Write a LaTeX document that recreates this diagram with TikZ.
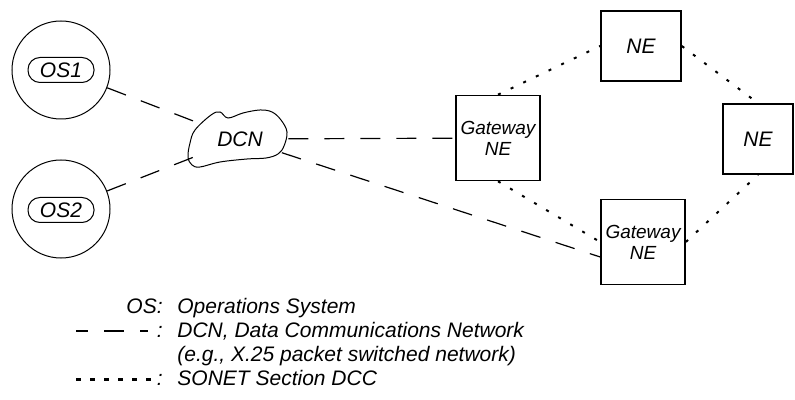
\documentclass[tikz,border=0pt]{standalone}
\usepackage{fontspec}
\setmainfont{Liberation Sans}
\usetikzlibrary{shapes.geometric}

\begin{document}
\begin{tikzpicture}[x=0.5pt, y=-0.5pt,
    every node/.style={font=\fontsize{10.5}{12}\selectfont\itshape},
    oscircle/.style={draw, circle, line width=0.5pt, minimum size=49pt, inner sep=0pt},
    osbox/.style={draw, rounded corners=6pt, line width=0.5pt, minimum width=33pt, minimum height=12.5pt, inner sep=0pt},
    nebox/.style={draw, line width=0.8pt, align=center, inner sep=0pt},
    gwbox/.style={nebox, minimum width=42pt, minimum height=42.5pt, font=\fontsize{9.5}{10.5}\selectfont\itshape},
    dcnlink/.style={line width=0.6pt, dash pattern=on 10pt off 8pt},
    dcclink/.style={line width=1pt, dash pattern=on 1.5pt off 5.5pt},
    legendtxt/.style={inner sep=0pt, text height=1.5ex, text depth=.25ex}]
    \useasboundingbox (0,0) rectangle (795,400);

    % Operations systems
    \node[oscircle] (os1) at (61,70) {};
    \node[osbox] (os1lbl) at (61,70) {OS1};
    \node[oscircle] (os2) at (61,209) {};
    \node[osbox] (os2lbl) at (61,210) {OS2};

    % DCN cloud
    \draw[line width=0.5pt] plot[smooth cycle, tension=0.6] coordinates {(195,130) (211,115) (220,112) (228,118) (243,113) (260,110) (272,112) (281,120) (287,132) (284,146) (278,154) (266,158) (247,159) (220,162) (200,167) (192,165) (188,157) (190,143)};
    \node[ellipse, minimum width=48pt, minimum height=27pt, inner sep=0pt] (dcn) at (240,139) {DCN};

    % Network elements
    \node[gwbox] (gw1) at (498,138) {Gateway\\NE};
    \node[nebox, minimum width=40pt, minimum height=35pt] (ne1) at (641,46) {NE};
    \node[nebox, minimum width=35pt, minimum height=35pt] (ne2) at (758,139) {NE};
    \node[gwbox] (gw2) at (643,242) {Gateway\\NE};

    % DCN links
    \coordinate (gw2in) at ([yshift=-7.5pt]gw2.west);
    \draw[dcnlink] (os1) -- (dcn);
    \draw[dcnlink] (os2) -- (dcn);
    \draw[dcnlink] (dcn) -- (gw1);
    \draw[dcnlink] (dcn) -- (gw2in);

    % Section DCC links
    \draw[dcclink] (gw1.north) -- (ne1.west);
    \draw[dcclink] (ne1.east) -- (ne2.north);
    \draw[dcclink] (gw1.south) -- (gw2.west);
    \draw[dcclink] (gw2.east) -- (ne2.south);

    % Legend
    \node[legendtxt, anchor=east] (keyos) at (163,307) {OS:};
    \node[legendtxt, anchor=west] (txtos) at (177,307) {Operations System};
    \coordinate (dashA) at (76,331);
    \coordinate (dashB) at (148,331);
    \draw[dcnlink, dash phase=4pt] (dashA) -- (dashB);
    \node[legendtxt, anchor=east] (keydcn) at (163,331) {:};
    \node[legendtxt, anchor=west] (txtdcn) at (177,331) {DCN, Data Communications Network};
    \node[legendtxt, anchor=west] (txtx25) at (177,355) {(e.g., X.25 packet switched network)};
    \coordinate (dotA) at (76,379);
    \coordinate (dotB) at (151,379);
    \draw[line width=1.5pt, dash pattern=on 2.5pt off 4.5pt] (dotA) -- (dotB);
    \node[legendtxt, anchor=east] (keydcc) at (163,379) {:};
    \node[legendtxt, anchor=west] (txtdcc) at (177,379) {SONET Section DCC};
\end{tikzpicture}
\end{document}
